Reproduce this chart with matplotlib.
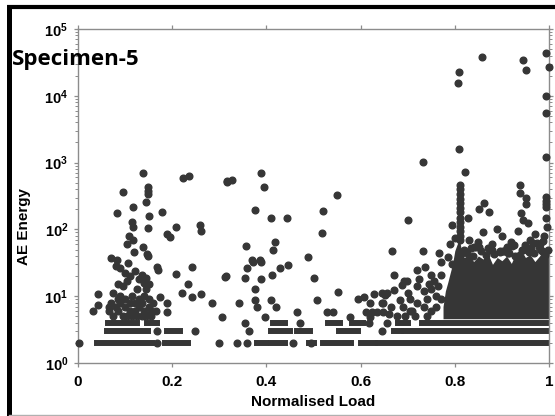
import matplotlib
matplotlib.use("Agg")
import matplotlib.pyplot as plt
from matplotlib.lines import Line2D

plt.rcParams['font.family'] = ['Liberation Sans', 'DejaVu Sans']
plt.rcParams['mathtext.fontset'] = 'custom'
plt.rcParams['mathtext.rm'] = 'Liberation Sans:bold'
plt.rcParams['mathtext.bf'] = 'Liberation Sans:bold'

# ---------------- data ----------------
# scattered events: normalised load (x) and AE energy (y)
load = [
    # left cluster
    0.002, 0.139, 0.222, 0.236, 0.316, 0.096, 0.148, 0.148, 0.148, 0.144, 0.117, 0.083, 0.179,
    0.151, 0.115, 0.117, 0.149, 0.209, 0.258, 0.261, 0.190, 0.195, 0.109, 0.116, 0.105, 0.139,
    0.119, 0.147, 0.148, 0.071, 0.082, 0.107,
    0.043, 0.167, 0.170, 0.209, 0.241, 0.313, 0.234, 0.220, 0.241, 0.262, 0.284, 0.305, 0.174,
    0.188, 0.188, 0.031, 0.043,
    0.080, 0.090, 0.100, 0.110, 0.120, 0.130, 0.135, 0.140, 0.145, 0.150, 0.085, 0.095, 0.105,
    0.125, 0.145, 0.075, 0.090, 0.100, 0.115, 0.130, 0.140, 0.150, 0.070, 0.080, 0.090, 0.100,
    0.110, 0.120, 0.130, 0.140, 0.150, 0.160, 0.065, 0.075, 0.085, 0.095, 0.105, 0.115, 0.125,
    0.135, 0.145, 0.155, 0.065, 0.110, 0.120, 0.085, 0.135, 0.155, 0.165,
    0.168, 0.300, 0.337, 0.358, 0.457, 0.495, 0.167, 0.248, 0.362, 0.646, 0.355, 0.471, 0.618, 0.655,
    # middle
    0.389, 0.317, 0.328, 0.394, 0.549, 0.376, 0.410, 0.444, 0.520, 0.519, 0.419, 0.413, 0.357,
    0.489, 0.370, 0.386, 0.314, 0.358, 0.372, 0.389, 0.411, 0.429, 0.445, 0.355, 0.389, 0.376,
    0.502, 0.342, 0.376, 0.410, 0.380, 0.420, 0.398, 0.507, 0.466, 0.551, 0.528, 0.541, 0.577,
    0.595, 0.607, 0.628, 0.652, 0.655, 0.620, 0.645, 0.612, 0.625, 0.635, 0.647, 0.620,
    # right-middle
    0.671, 0.687, 0.692, 0.670, 0.645, 0.648, 0.665, 0.698, 0.684, 0.690, 0.719, 0.737, 0.750,
    0.771, 0.771, 0.720, 0.735, 0.750, 0.760, 0.770, 0.720, 0.735, 0.750, 0.760, 0.705, 0.710,
    0.740, 0.765, 0.755, 0.700, 0.725, 0.745, 0.705, 0.695, 0.715, 0.740, 0.660, 0.677,
    0.700, 0.733, 0.667, 0.733, 0.767, 0.793,
    # high energy events
    0.857, 0.809, 0.807, 0.944, 0.952, 0.993, 1.000, 0.993, 0.993, 0.809, 0.993, 0.822, 0.810,
    0.938, 0.938, 0.952, 0.862, 0.952, 0.851, 0.873, 0.827, 0.940, 0.945, 0.955, 0.993, 0.993,
    0.993, 0.993, 0.993,
    # column near 0.81
    0.810, 0.810, 0.810, 0.810, 0.810, 0.810, 0.810, 0.810, 0.810, 0.810, 0.810, 0.810,
    # top of dense block
    0.790, 0.800, 0.830, 0.840, 0.860, 0.880, 0.900, 0.910, 0.920, 0.960, 0.970, 0.980, 0.990,
    0.995, 0.850, 0.890, 0.935, 0.820, 0.870, 0.905, 0.925, 0.945, 0.965, 0.985, 0.815, 0.845,
    0.875, 0.895, 0.915, 0.955, 0.975, 0.998, 0.785, 0.795,
    0.826, 0.838, 0.856, 0.866, 0.884, 0.897, 0.913, 0.928, 0.942, 0.958, 0.968, 0.982, 0.992,
    0.834, 0.852, 0.878, 0.902, 0.922, 0.948, 0.962, 0.978, 0.988,
]
energy = [
    2.0, 690, 590, 630, 510, 360, 430, 380, 340, 260, 220, 175, 180,
    160, 130, 110, 105, 110, 118, 95, 85, 76, 80, 69, 60, 54,
    46, 43, 40, 37, 35, 31,
    10.8, 27.5, 25, 21.4, 27, 19.5, 15, 11, 9.8, 10.7, 7.8, 4.9, 9.8,
    7.8, 5.9, 6.0, 7.4,
    28, 26, 22, 20, 24, 18, 21, 16, 19, 15, 15, 14, 17,
    13, 13, 11, 10, 9, 10, 9, 10, 9, 8, 7, 8, 7,
    6, 8, 7, 6, 7, 8, 6, 5, 6, 5, 5, 5, 5,
    5, 5, 5, 7, 8, 6, 9, 8, 6, 6,
    2, 2, 2, 2, 2, 2, 3, 3, 3, 3, 4, 4, 4, 4,
    690, 525, 540, 430, 330, 195, 150, 150, 190, 89, 65, 49, 56,
    39, 35, 35, 20, 26, 33, 33, 21, 26, 29, 19, 18, 13,
    18.6, 7.8, 8.7, 8.7, 6.9, 6.9, 4.9, 8.7, 5.9, 11.7, 5.9, 5.9, 4.9,
    9, 9.8, 10.7, 10.5, 11.2, 7.8, 7.8, 5.9, 5.9, 5.9, 5.9, 4.9,
    12.3, 14.8, 16.6, 21, 11, 7.8, 6.9, 16.6, 8.7, 6.9, 24.5, 27.5, 21,
    33, 21, 14, 12, 13, 10, 9, 8, 7, 6, 7, 9, 6,
    9, 14, 17, 11, 18, 15, 6, 5, 5, 5, 5.5, 5,
    138, 1030, 48, 47, 45, 117,
    38000, 22400, 15800, 34000, 24000, 44000, 27000, 10000, 5500, 1620, 1230, 720, 460,
    470, 355, 300, 245, 240, 200, 182, 148, 178, 138, 126, 310, 270,
    240, 220, 148,
    400, 340, 290, 250, 210, 180, 150, 130, 110, 95, 80, 70,
    60, 75, 70, 55, 90, 60, 80, 55, 65, 70, 85, 60, 80,
    110, 65, 100, 95, 50, 52, 48, 58, 50, 62, 48, 45, 55, 50,
    48, 45, 52, 62, 50, 38, 30,
    44, 40, 47, 41, 43, 46, 44, 40, 49, 46, 44, 49, 42,
    52, 55, 50, 48, 56, 58, 52, 54, 66,
]

# horizontal bands of repeated low-energy events: level, start and end load
band_level = [2, 2, 2, 2, 2, 2, 2, 2,
              3, 3, 3, 3, 3, 3, 3,
              4, 4, 4, 4, 4, 4, 4]
band_start = [0.040, 0.185, 0.380, 0.410, 0.490, 0.520, 0.600, 0.637,
              0.061, 0.188, 0.410, 0.464, 0.555, 0.670, 0.692,
              0.064, 0.146, 0.414, 0.530, 0.581, 0.680, 0.730]
band_end = [0.158, 0.234, 0.400, 0.440, 0.502, 0.580, 0.630, 1.000,
            0.149, 0.217, 0.450, 0.493, 0.595, 0.685, 1.000,
            0.125, 0.167, 0.440, 0.556, 0.606, 0.700, 1.000]

# saturated dense region near failure: load positions and upper energy envelope
block_load = [0.775, 0.780, 0.785, 0.790, 0.795, 0.800, 0.805, 0.810, 0.815, 0.820,
              0.830, 0.840, 0.850, 0.860, 0.870, 0.880, 0.890, 0.900, 0.910, 0.920,
              0.930, 0.940, 0.950, 0.960, 0.970, 0.980, 0.990, 1.000]
block_top = [7, 12, 16, 22, 30, 48, 60, 70, 45, 38,
             42, 33, 40, 36, 44, 30, 38, 34, 40, 31,
             45, 50, 38, 42, 33, 40, 52, 45]
block_bottom = 4.6

xtick_values = [0, 0.2, 0.4, 0.6, 0.8, 1]
xtick_labels = ['0', '0.2', '0.4', '0.6', '0.8', '1']
ytick_values = [1, 10, 100, 1000, 10000, 100000]
ytick_labels = [r'$\mathbf{10^{0}}$', r'$\mathbf{10^{1}}$', r'$\mathbf{10^{2}}$',
                r'$\mathbf{10^{3}}$', r'$\mathbf{10^{4}}$', r'$\mathbf{10^{5}}$']

# ---------------- plot ----------------
W, H = 555, 416
fig = plt.figure(figsize=(W / 100, H / 100), dpi=100)
ax = fig.add_axes([78 / W, 53 / H, 471 / W, 334 / H])

mark_color = '#363636'
ax.fill_between(block_load, block_bottom, block_top, color=mark_color, lw=0, zorder=2)
ax.hlines(band_level, band_start, band_end, colors=mark_color, linewidth=4.3,
          capstyle='projecting', zorder=2)
ax.plot(load, energy, ls='none', marker='o', ms=4.8, color=mark_color,
        mec=mark_color, zorder=3, clip_on=False)

ax.set_yscale('log')
ax.set_xlim(0, 1)
ax.set_ylim(1, 1e5)
ax.set_xticks(xtick_values)
ax.set_xticklabels(xtick_labels, fontweight='bold', fontsize=11)
ax.set_yticks(ytick_values)
ax.set_yticklabels(ytick_labels, fontsize=10.5)

spine_c = '#8c8c8c'
for s in ax.spines.values():
    s.set_color(spine_c)
    s.set_linewidth(1.0)
ax.tick_params(which='both', direction='out', color=spine_c, top=True, right=True,
               labeltop=False, labelright=False)
ax.tick_params(which='major', length=3, width=0.9, pad=4)
ax.tick_params(which='minor', length=2, width=0.7)
ax.tick_params(axis='x', which='major', pad=6)

ax.set_xlabel('Normalised Load', fontweight='bold', fontsize=11)
ax.set_ylabel('AE Energy', fontweight='bold', fontsize=11)
ax.xaxis.set_label_coords(0.5, -0.095)
ax.yaxis.set_label_coords(-0.10, 0.41)

fig.text(12 / W, 1 - 60 / H, 'Specimen-5', fontsize=16, fontweight='bold',
         family=['Open Sans', 'DejaVu Sans'], va='center', ha='left', zorder=10)

# outer frame
fig.add_artist(Line2D([9 / W, 9 / W], [0, 1 - 5 / H], transform=fig.transFigure,
                      color='black', lw=3.6, solid_capstyle='butt'))
fig.add_artist(Line2D([7 / W, 1], [1 - 7 / H, 1 - 7 / H], transform=fig.transFigure,
                      color='black', lw=3.0, solid_capstyle='butt'))
fig.add_artist(Line2D([9 / W, 1], [1.2 / H, 1.2 / H], transform=fig.transFigure,
                      color='#b0b0b0', lw=1.0))

fig.savefig('out.png', dpi=100)
